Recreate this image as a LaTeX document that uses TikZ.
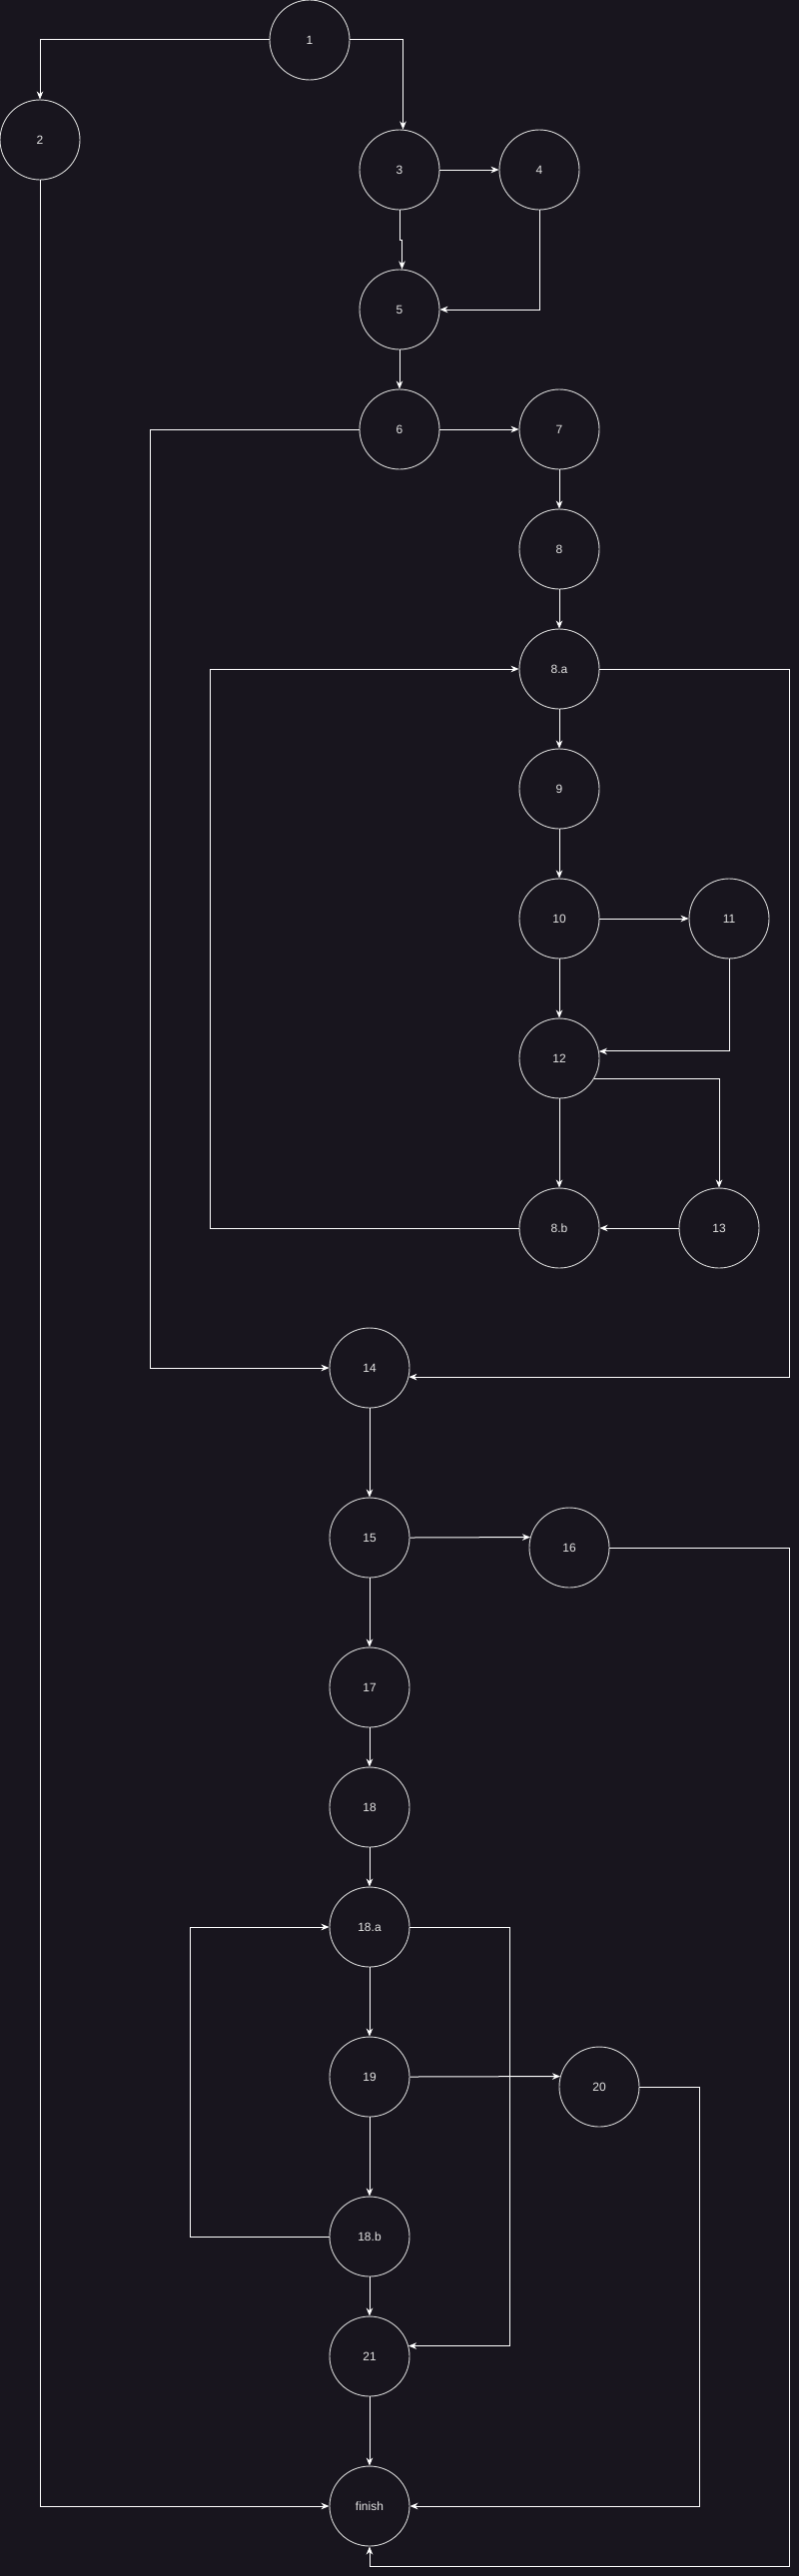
\documentclass[tikz,border=0pt]{standalone}
\usepackage{fontspec}
\setmainfont{Liberation Sans}
\usetikzlibrary{arrows.meta,calc}
\definecolor{bgc}{HTML}{18151E}
\definecolor{ringc}{HTML}{D8D8D8}
\definecolor{txtc}{HTML}{E4E4E4}
\begin{document}
\begin{tikzpicture}[x=1pt,y=-1pt,
  vert/.style={circle,draw=ringc,line width=0.9pt,minimum size=80pt,inner sep=0pt,
    text=txtc,font=\fontsize{12}{14}\selectfont},
  link/.style={draw=white,line width=1pt,-{Stealth[length=8pt,width=6.5pt,inset=2.5pt]}},
  plain/.style={draw=white,line width=1pt}]
\fill[bgc] (0,0) rectangle (800,2580);
\useasboundingbox (0,0) rectangle (800,2580);
% nodes
\node[vert] (n1) at (310,40) {1};
\node[vert] (n2) at (40,140) {2};
\node[vert] (n3) at (400,170) {3};
\node[vert] (n4) at (540,170) {4};
\node[vert] (n5) at (400,310) {5};
\node[vert] (n6) at (400,430) {6};
\node[vert] (n7) at (560,430) {7};
\node[vert] (n8) at (560,550) {8};
\node[vert] (n8a) at (560,670) {8.a};
\node[vert] (n9) at (560,790) {9};
\node[vert] (n10) at (560,920) {10};
\node[vert] (n11) at (730,920) {11};
\node[vert] (n12) at (560,1060) {12};
\node[vert] (n8b) at (560,1230) {8.b};
\node[vert] (n13) at (720,1230) {13};
\node[vert] (n14) at (370,1370) {14};
\node[vert] (n15) at (370,1540) {15};
\node[vert] (n16) at (570,1550) {16};
\node[vert] (n17) at (370,1690) {17};
\node[vert] (n18) at (370,1810) {18};
\node[vert] (n18a) at (370,1930) {18.a};
\node[vert] (n19) at (370,2080) {19};
\node[vert] (n20) at (600,2090) {20};
\node[vert] (n18b) at (370,2240) {18.b};
\node[vert] (n21) at (370,2360) {21};
\node[vert] (nfin) at (370,2510) {finish};
% helper coordinates for bends
\coordinate (xa) at (150.5,0);
\coordinate (xb) at (210.7,0);
\coordinate (xr) at (790,0);
\coordinate (xc) at (190.3,0);
\coordinate (xd) at (510.7,0);
\coordinate (xe) at (700,0);
\coordinate (bot) at (790,2570);
% edges
\draw[link] (n1.west) -| (n2.north);
\draw[link] (n1.east) -| ([xshift=3.5pt]n3.north);
\draw[link] (n3.east) -- (n4.west);
\draw[link] (n3.south) -- ++(0,30) -- ++(2.5,0) -- ([xshift=2.5pt]n5.north);
\draw[link] (n4.south) |- (n5.east);
\draw[link] (n5.south) -- (n6.north);
\draw[link] (n6.east) -- (n7.west);
\draw[link] (n6.west) -- (n6.west -| xa) |- (n14.west);
\draw[link] (n7.south) -- (n8.north);
\draw[link] (n8.south) -- (n8a.north);
\draw[link] (n8a.south) -- (n9.north);
\draw[link] (n8a.east) -- (n8a.east -| xr) |- (n14.-13);
\draw[link] (n9.south) -- (n10.north);
\draw[link] (n10.east) -- (n11.west);
\draw[link] (n10.south) -- (n12.north);
\draw[link] (n11.south) |- (n12.10);
\draw[link] (n12.-31) -| (n13.north);
\draw[link] (n12.south) -- (n8b.north);
\draw[link] (n13.west) -- (n8b.east);
\draw[link] (n8b.west) -- (n8b.west -| xb) |- (n8a.west);
\draw[link] (n14.south) -- (n15.north);
\draw[link] (n15.east) -- (n16.165.5);
\draw[link] (n15.south) -- (n17.north);
\draw[link] (n16.east) -- (n16.east -| xr) -- (bot) -| (nfin.south);
\draw[link] (n17.south) -- (n18.north);
\draw[link] (n18.south) -- (n18a.north);
\draw[link] (n18a.south) -- (n19.north);
\draw[link] (n18a.east) -- (n18a.east -| xd) |- (n21.15);
\draw[link] (n19.east) -- (n20.165.5);
\draw[link] (n19.south) -- (n18b.north);
\draw[link] (n18b.west) -- (n18b.west -| xc) |- (n18a.west);
\draw[link] (n18b.south) -- (n21.north);
\draw[link] (n20.east) -- (n20.east -| xe) |- (nfin.east);
\draw[link] (n21.south) -- (nfin.north);
\draw[link] (n2.south) |- (nfin.west);
\end{tikzpicture}
\end{document}
